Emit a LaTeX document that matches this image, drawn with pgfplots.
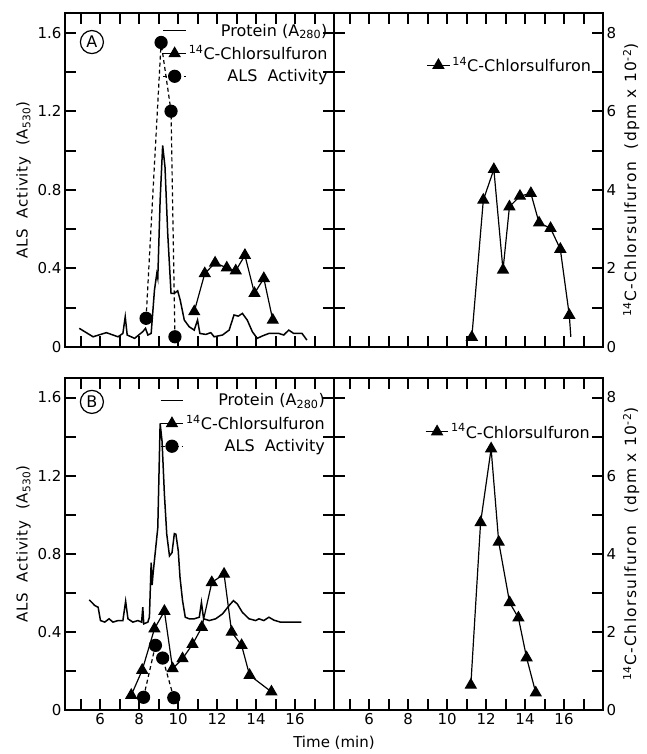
\documentclass[border=0pt]{standalone}
\usepackage{fontspec}
\setmainfont{DejaVu Sans}
\newfontfamily\labfont[LetterSpace=5]{DejaVu Sans}
\newfontfamily\rlabfont[LetterSpace=9]{DejaVu Sans}
\usepackage{pgfplots}
\pgfplotsset{compat=1.18}

\pgfplotsset{
  panel/.style={
    scale only axis, width=269pt, anchor=south west,
    xmin=4.2, xmax=18,
    xtick={6,8,10,12,14,16}, minor xtick={5,7,9,11,13,15,17},
    tick pos=both, tick align=inside,
    major tick length=11pt, minor tick length=11pt,
    axis line style={line width=1.4pt},
    every tick/.append style={line width=2pt, black},
    every minor tick/.append style={line width=2pt, black},
    tick label style={font=\fontsize{15}{17}\selectfont},
    label style={font=\fontsize{15}{17}\selectfont},
    /pgf/number format/assume math mode=true,
    legend cell align=right,
    legend style={draw=none, fill=none, font=\fontsize{16}{18}\selectfont, row sep=4pt},
    legend image code/.code={\draw[mark repeat=2,mark phase=2,##1] plot coordinates {(0cm,0cm) (0.4cm,0cm) (0.8cm,0cm)};},
  },
  leftp/.style={panel, ymin=0, ymax=1.7,
    ytick={0,0.4,0.8,1.2,1.6}, minor ytick={0.2,0.6,1.0,1.4},
    yticklabel pos=left,
    ylabel style={font=\labfont\fontsize{15}{17}\selectfont},
    ylabel={ALS~ Activity~ (A\textsubscript{530})}},
  rightp/.style={panel, ymin=0, ymax=8.5,
    ytick={0,2,4,6,8}, minor ytick={1,3,5,7},
    yticklabel pos=right, ylabel near ticks,
    ylabel style={font=\rlabfont\fontsize{15.5}{17}\selectfont},
    ylabel={\textsuperscript{14}C-Chlorsulfuron~ (dpm x 10\textsuperscript{-2})}},
  prot/.style={black, line width=1.5pt, no markers},
  chl/.style={black, line width=1.2pt, mark=triangle*, mark size=6pt, mark options={solid}},
  als/.style={black, line width=1.2pt, dash pattern=on 4pt off 3pt, mark=*, mark size=6pt, mark options={solid}},
}
\tikzset{circlab/.style={circle, draw, line width=1.2pt, inner sep=2.5pt, font=\fontsize{16}{18}\selectfont}}

\begin{document}
\begin{tikzpicture}
\path (0,0) rectangle (646pt,754pt);

% ---- A, left
\begin{axis}[leftp, at={(65pt,407pt)}, height=334pt, xticklabels={},
  legend style={at={(rel axis cs:0.995,0.98)}, anchor=north east}]
\addplot[prot] coordinates {
(4.93,0.095) (5.64,0.052) (6.32,0.073) (6.92,0.052) (7.17,0.069) (7.29,0.154)
(7.39,0.061) (7.77,0.044) (8.19,0.078) (8.33,0.095) (8.45,0.061) (8.62,0.069)
(8.79,0.29) (8.91,0.374) (8.96,0.35) (9.08,0.747) (9.21,1.026) (9.33,0.916)
(9.47,0.577) (9.64,0.273) (9.81,0.273) (9.98,0.286) (10.11,0.239) (10.32,0.137)
(10.57,0.103) (10.83,0.086) (11.0,0.137) (11.12,0.069) (11.42,0.064) (11.68,0.073)
(11.85,0.052) (12.28,0.061) (12.62,0.086) (12.87,0.163) (13.09,0.157) (13.30,0.171)
(13.55,0.137) (13.81,0.078) (14.06,0.044) (14.32,0.056) (14.66,0.069) (15.17,0.069)
(15.42,0.061) (15.68,0.086) (15.93,0.069) (16.36,0.069) (16.61,0.035)};
\addlegendentry{Protein (A\textsubscript{280})}
\addplot[chl] coordinates {
(10.83,0.18) (11.37,0.374) (11.90,0.428) (12.50,0.403) (12.96,0.388)
(13.43,0.467) (13.92,0.273) (14.40,0.349) (14.86,0.137)};
\addlegendentry{\textsuperscript{14}C-Chlorsulfuron}
\addplot[als] coordinates {(8.36,0.146) (9.13,1.55) (9.64,1.20) (9.84,0.052)};
\addlegendentry{ALS~ Activity}
\node[circlab] at (rel axis cs:0.10,0.913) {A};
\end{axis}

% ---- A, right
\begin{axis}[rightp, at={(334pt,407pt)}, height=334pt, xticklabels={},
  legend style={at={(rel axis cs:0.975,0.88)}, anchor=north east}]
\addplot[chl] coordinates {
(11.27,0.25) (11.86,3.74) (12.40,4.52) (12.87,1.96) (13.20,3.57) (13.74,3.84)
(14.30,3.91) (14.72,3.16) (15.31,3.02) (15.81,2.49) (16.27,0.81)};
\addlegendentry{\textsuperscript{14}C-Chlorsulfuron}
\addplot[black, line width=1.2pt, no markers, forget plot] coordinates {(16.27,0.81) (16.35,0.26)};
\end{axis}

% ---- B, left
\begin{axis}[leftp, at={(65pt,44pt)}, height=332pt,
  xlabel={Time (min)},
  xlabel style={at={(ticklabel cs:1)}, anchor=north, yshift=-4pt},
  legend style={at={(rel axis cs:0.985,0.965)}, anchor=north east}]
\addplot[prot] coordinates {
(5.44,0.564) (5.73,0.535) (5.90,0.526) (6.02,0.458) (6.24,0.450) (6.46,0.467)
(6.66,0.450) (6.92,0.458) (7.17,0.458) (7.31,0.557) (7.43,0.467) (7.68,0.450)
(7.94,0.458) (8.13,0.45) (8.19,0.526) (8.24,0.441) (8.45,0.450) (8.53,0.475)
(8.62,0.755) (8.67,0.64) (8.72,0.70) (8.96,0.933) (9.08,1.468) (9.18,1.375)
(9.30,1.103) (9.42,0.90) (9.56,0.789) (9.69,0.806) (9.81,0.903) (9.89,0.90)
(10.01,0.815) (10.10,0.679) (10.23,0.560) (10.37,0.475) (10.57,0.467) (10.83,0.467)
(11.09,0.475) (11.20,0.551) (11.31,0.467) (11.60,0.458) (11.93,0.467) (12.28,0.492)
(12.62,0.535) (12.84,0.560) (13.04,0.543) (13.30,0.500) (13.64,0.467) (13.98,0.458)
(14.15,0.467) (14.40,0.458) (14.66,0.475) (14.92,0.46) (15.25,0.450) (15.68,0.450)
(16.32,0.450)};
\addlegendentry{Protein (A\textsubscript{280})}
\addplot[chl] coordinates {
(7.60,0.076) (8.16,0.204) (8.79,0.416) (9.30,0.506) (9.72,0.212) (10.23,0.263)
(10.74,0.336) (11.22,0.424) (11.73,0.653) (12.36,0.696) (12.75,0.399) (13.26,0.331)
(13.67,0.178) (14.79,0.093)};
\addlegendentry{\textsuperscript{14}C-Chlorsulfuron}
\addplot[als] coordinates {(8.23,0.065) (8.84,0.331) (9.21,0.266) (9.78,0.063)};
\addlegendentry{ALS~ Activity}
\node[circlab] at (rel axis cs:0.10,0.928) {B};
\end{axis}

% ---- B, right
\begin{axis}[rightp, at={(334pt,44pt)}, height=332pt,
  legend style={at={(rel axis cs:0.97,0.875)}, anchor=north east}]
\addplot[chl] coordinates {
(11.22,0.64) (11.72,4.80) (12.26,6.69) (12.65,4.30) (13.21,2.75) (13.66,2.36)
(14.08,1.34) (14.55,0.44)};
\addlegendentry{\textsuperscript{14}C-Chlorsulfuron}
\end{axis}
\end{tikzpicture}
\end{document}
